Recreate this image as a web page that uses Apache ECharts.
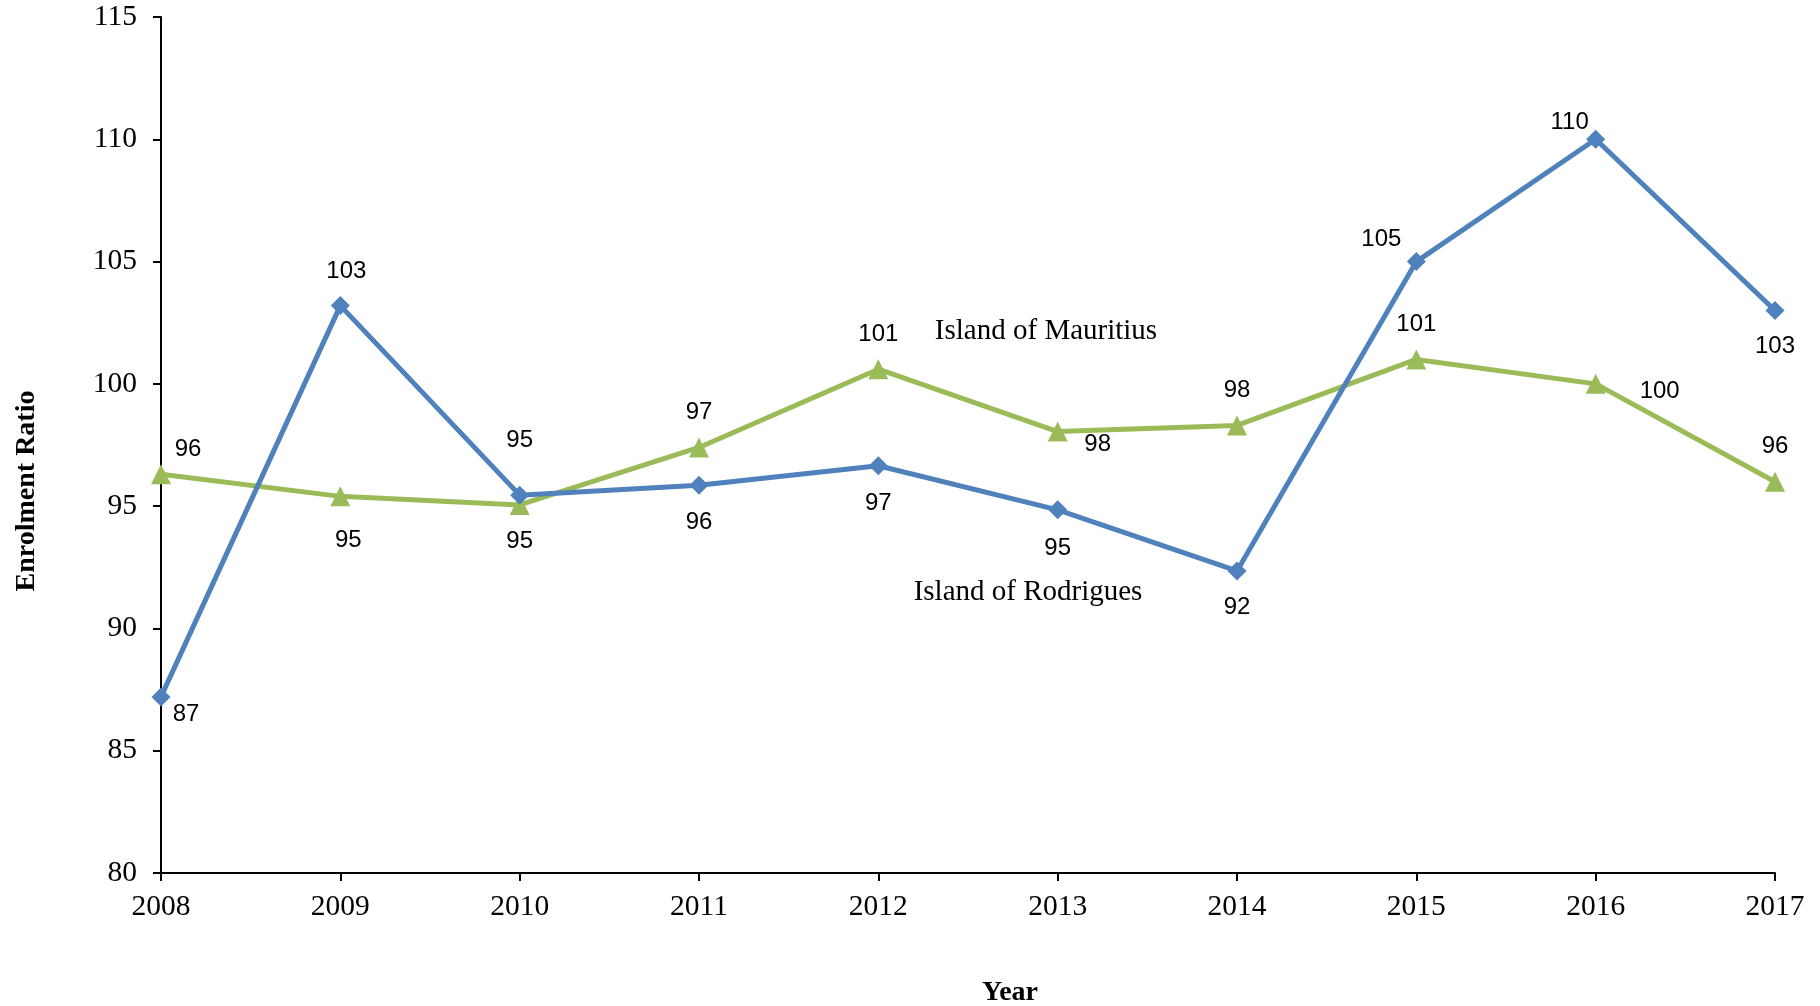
<!DOCTYPE html>
<html>
<head>
<meta charset="utf-8">
<script src="https://cdn.jsdelivr.net/npm/echarts@6/dist/echarts.min.js"></script>
<style>
html,body{margin:0;padding:0;background:#fff;overflow:hidden;}
#chart{width:1820px;height:1006px;}
</style>
</head>
<body>
<div id="chart"></div>
<script>
var years = ['2008','2009','2010','2011','2012','2013','2014','2015','2016','2017'];
var rodrigues = [87.2, 103.2, 95.45, 95.85, 96.65, 94.85, 92.35, 105.0, 110.0, 103.0];
var mauritius = [96.3, 95.4, 95.05, 97.4, 100.6, 98.05, 98.3, 101.0, 100.0, 96.0];
var yTicks = [80, 85, 90, 95, 100, 105, 110, 115];

// label offsets (style only)
var rodLabelOffset = [[25,17],[6,-34],[0,-55],[0,37],[0,38],[0,39],[0,36],[-35,-22],[-26,-17],[0,36]];
var mauLabelOffset = [[27,-25],[8,44],[0,36],[0,-35],[0,-35],[40,13],[0,-35],[0,-35],[64,8],[0,-35]];

function build(values, offsets) {
  return values.map(function (v, i) {
    return { value: v, label: { offset: offsets[i] } };
  });
}

var chart = echarts.init(document.getElementById('chart'));
var labelStyle = {
  show: true,
  position: 'inside',
  fontFamily: 'Liberation Sans, Arial, sans-serif',
  fontSize: 24,
  color: '#000',
  formatter: function (p) { return Math.round(p.value); }
};
var serif = '"Liberation Serif", "Times New Roman", serif';
chart.setOption({
  animation: false,
  backgroundColor: '#fff',
  grid: { left: 161, right: 45, top: 17, bottom: 133, containLabel: false },
  xAxis: {
    type: 'category',
    data: years,
    boundaryGap: false,
    axisLine: { lineStyle: { color: '#000', width: 2 } },
    axisTick: { show: true, alignWithLabel: true, length: 8, lineStyle: { color: '#000', width: 2 } },
    axisLabel: { fontFamily: serif, fontSize: 29.5, color: '#000', margin: 19 },
    splitLine: { show: false }
  },
  yAxis: {
    type: 'value',
    min: yTicks[0],
    max: yTicks[yTicks.length - 1],
    interval: 5,
    axisLine: { show: true, lineStyle: { color: '#000', width: 2 } },
    axisTick: { show: true, length: 8, lineStyle: { color: '#000', width: 2 } },
    axisLabel: { fontFamily: serif, fontSize: 29.5, color: '#000', margin: 24 },
    splitLine: { show: false }
  },
  series: [
    {
      name: 'Island of Rodrigues',
      type: 'line',
      data: build(rodrigues, rodLabelOffset),
      symbol: 'diamond',
      symbolSize: 19,
      lineStyle: { color: '#4F81BD', width: 5 },
      itemStyle: { color: '#4F81BD' },
      label: labelStyle,
      z: 3
    },
    {
      name: 'Island of Mauritius',
      type: 'line',
      data: build(mauritius, mauLabelOffset),
      symbol: 'triangle',
      symbolSize: 20,
      lineStyle: { color: '#9BBB59', width: 5 },
      itemStyle: { color: '#9BBB59' },
      label: labelStyle,
      z: 2
    }
  ],
  graphic: [
    { type: 'text', x: 1046, y: 331, style: { text: 'Island of Mauritius', font: '29px ' + serif, fill: '#000', align: 'center', verticalAlign: 'middle' } },
    { type: 'text', x: 1028, y: 592, style: { text: 'Island of Rodrigues', font: '29px ' + serif, fill: '#000', align: 'center', verticalAlign: 'middle' } },
    { type: 'text', x: 27, y: 491, rotation: Math.PI / 2, style: { text: 'Enrolment Ratio', font: 'bold 28px ' + serif, fill: '#000', align: 'center', verticalAlign: 'middle' } },
    { type: 'text', x: 1010, y: 993, style: { text: 'Year', font: 'bold 28px ' + serif, fill: '#000', align: 'center', verticalAlign: 'middle' } }
  ]
});
</script>
</body>
</html>
